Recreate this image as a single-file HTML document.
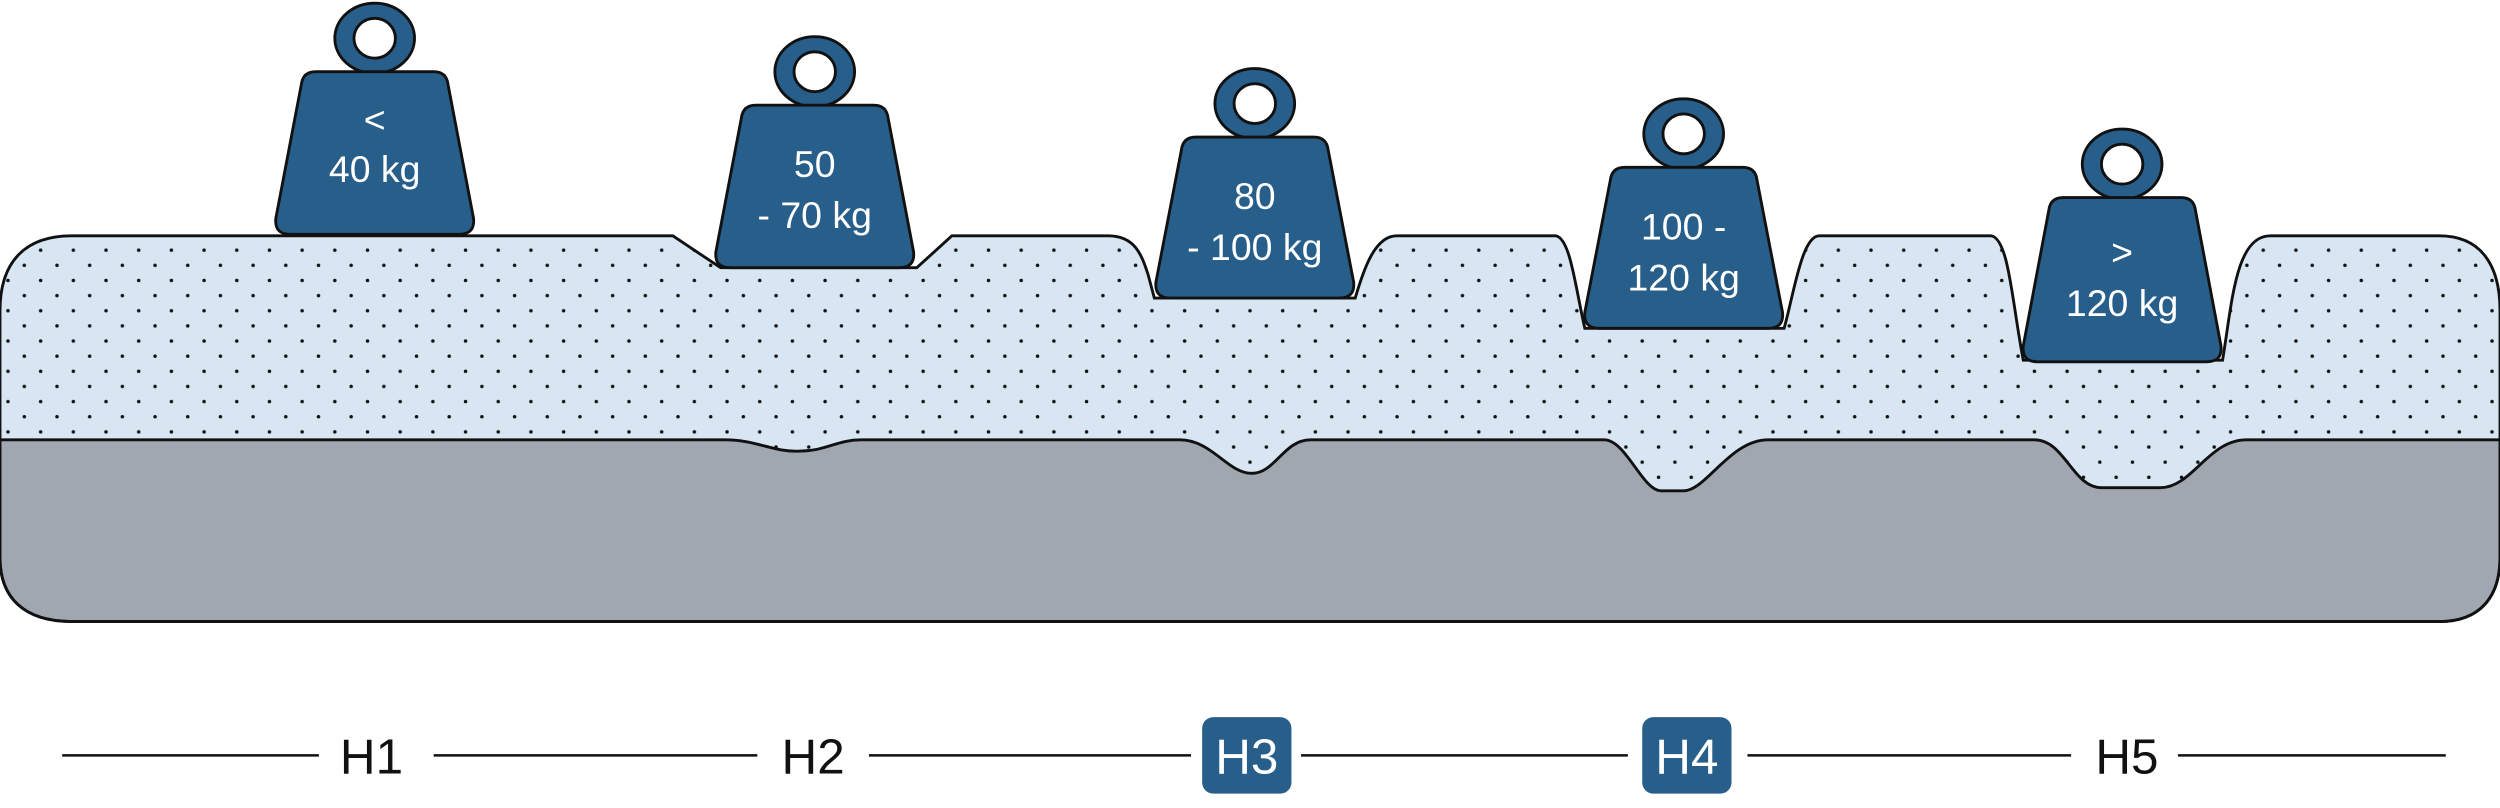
<!DOCTYPE html>
<html><head><meta charset="utf-8"><style>html,body{margin:0;padding:0;background:#fff}svg{display:block}</style></head>
<body>
<svg width="2500" height="808" viewBox="0 0 1568 507" preserveAspectRatio="none" xmlns="http://www.w3.org/2000/svg">
<defs>
<pattern id="dots" x="0" y="0" width="20.5" height="19" patternUnits="userSpaceOnUse">
<circle cx="5" cy="5" r="1.1" fill="#111"/>
<circle cx="15.25" cy="14.5" r="1.1" fill="#111"/>
</pattern>
</defs>
<path d="M0,195 C0,165 15,148 45,148 L422,148 L452,168 L575,168 L597,148 L695,148 C712,148 716,160 720,172 L724,187 L850,187 C855,170 862,148 876,148 L976,148 C985,150 988,180 994,206 L1119,206 C1125,185 1130,148 1141,148 L1249,148 C1260,150 1262,190 1269,226 L1394,226 C1400,190 1402,148 1424,148 L1530,148 C1555,148 1568,165 1568,195 L1568,350 C1568,375 1555,390 1530,390 L45,390 C15,390 0,375 0,350 Z" fill="#d7e6f2"/>
<path d="M0,195 C0,165 15,148 45,148 L422,148 L452,168 L575,168 L597,148 L695,148 C712,148 716,160 720,172 L724,187 L850,187 C855,170 862,148 876,148 L976,148 C985,150 988,180 994,206 L1119,206 C1125,185 1130,148 1141,148 L1249,148 C1260,150 1262,190 1269,226 L1394,226 C1400,190 1402,148 1424,148 L1530,148 C1555,148 1568,165 1568,195 L1568,350 C1568,375 1555,390 1530,390 L45,390 C15,390 0,375 0,350 Z" fill="url(#dots)"/>
<path d="M0,276 L455,276 C475,276 485,284 502,283 C518,283 525,276 540,276 L740,276 C760,276 770,297 785,297 C800,297 805,276 822,276 L1006,276 C1020,276 1030,308 1042,308 L1056,308 C1070,308 1085,276 1109,276 L1276,276 C1295,276 1300,306 1318,306 L1355,306 C1375,306 1385,276 1409,276 L1568,276 L1568,350 C1568,375 1555,390 1530,390 L45,390 C15,390 0,375 0,350 Z" fill="#a0a7b0" stroke="#111" stroke-width="1.8"/>
<path d="M0,195 C0,165 15,148 45,148 L422,148 L452,168 L575,168 L597,148 L695,148 C712,148 716,160 720,172 L724,187 L850,187 C855,170 862,148 876,148 L976,148 C985,150 988,180 994,206 L1119,206 C1125,185 1130,148 1141,148 L1249,148 C1260,150 1262,190 1269,226 L1394,226 C1400,190 1402,148 1424,148 L1530,148 C1555,148 1568,165 1568,195 L1568,350 C1568,375 1555,390 1530,390 L45,390 C15,390 0,375 0,350 Z" fill="none" stroke="#111" stroke-width="1.8"/>

<g fill="#275e8a" stroke="#111" stroke-width="1.8">
<g transform="translate(235,45)">
<path fill-rule="evenodd" d="M-25,-21 a25,22 0 1,0 50,0 a25,22 0 1,0 -50,0 Z M-13,-21 a13,12.5 0 1,0 26,0 a13,12.5 0 1,0 -26,0 Z"/>
<path d="M-37,0 L37,0 Q45,0 46,8 L62,92 Q63,102 53,102 L-53,102 Q-63,102 -62,92 L-46,8 Q-45,0 -37,0 Z"/>
</g>
<g transform="translate(511,66)">
<path fill-rule="evenodd" d="M-25,-21 a25,22 0 1,0 50,0 a25,22 0 1,0 -50,0 Z M-13,-21 a13,12.5 0 1,0 26,0 a13,12.5 0 1,0 -26,0 Z"/>
<path d="M-37,0 L37,0 Q45,0 46,8 L62,92 Q63,102 53,102 L-53,102 Q-63,102 -62,92 L-46,8 Q-45,0 -37,0 Z"/>
</g>
<g transform="translate(787,86)">
<path fill-rule="evenodd" d="M-25,-21 a25,22 0 1,0 50,0 a25,22 0 1,0 -50,0 Z M-13,-21 a13,12.5 0 1,0 26,0 a13,12.5 0 1,0 -26,0 Z"/>
<path d="M-37,0 L37,0 Q45,0 46,8 L62,91 Q63,101 53,101 L-53,101 Q-63,101 -62,91 L-46,8 Q-45,0 -37,0 Z"/>
</g>
<g transform="translate(1056,105)">
<path fill-rule="evenodd" d="M-25,-21 a25,22 0 1,0 50,0 a25,22 0 1,0 -50,0 Z M-13,-21 a13,12.5 0 1,0 26,0 a13,12.5 0 1,0 -26,0 Z"/>
<path d="M-37,0 L37,0 Q45,0 46,8 L62,91 Q63,101 53,101 L-53,101 Q-63,101 -62,91 L-46,8 Q-45,0 -37,0 Z"/>
</g>
<g transform="translate(1331,124)">
<path fill-rule="evenodd" d="M-25,-21 a25,22 0 1,0 50,0 a25,22 0 1,0 -50,0 Z M-13,-21 a13,12.5 0 1,0 26,0 a13,12.5 0 1,0 -26,0 Z"/>
<path d="M-37,0 L37,0 Q45,0 46,8 L62,93 Q63,103 53,103 L-53,103 Q-63,103 -62,93 L-46,8 Q-45,0 -37,0 Z"/>
</g>
</g>

<g fill="#fff" font-family="Liberation Sans, sans-serif" font-size="23.5" text-anchor="middle" dominant-baseline="central">
<text x="235" y="75">&lt;</text><text x="235" y="106">40 kg</text>
<text x="511" y="103">50</text><text x="511" y="135">- 70 kg</text>
<text x="787" y="123">80</text><text x="787" y="155">- 100 kg</text>
<text x="1056" y="142">100 -</text><text x="1056" y="174">120 kg</text>
<text x="1331" y="158">&gt;</text><text x="1331" y="190">120 kg</text>
</g>

<g stroke="#111" stroke-width="1.6">
<line x1="39" y1="474" x2="200" y2="474"/>
<line x1="272" y1="474" x2="475" y2="474"/>
<line x1="545" y1="474" x2="747" y2="474"/>
<line x1="816" y1="474" x2="1021" y2="474"/>
<line x1="1096" y1="474" x2="1299" y2="474"/>
<line x1="1366" y1="474" x2="1534" y2="474"/>
</g>
<rect x="754" y="450" width="56" height="48" rx="7" fill="#275e8a"/>
<rect x="1030" y="450" width="56" height="48" rx="7" fill="#275e8a"/>
<g font-family="Liberation Sans, sans-serif" font-size="31" text-anchor="middle" dominant-baseline="central">
<text x="233" y="475" fill="#111">H1</text>
<text x="510" y="475" fill="#111">H2</text>
<text x="782" y="475" fill="#fff">H3</text>
<text x="1058" y="475" fill="#fff">H4</text>
<text x="1334" y="475" fill="#111">H5</text>
</g>
</svg>
</body></html>
